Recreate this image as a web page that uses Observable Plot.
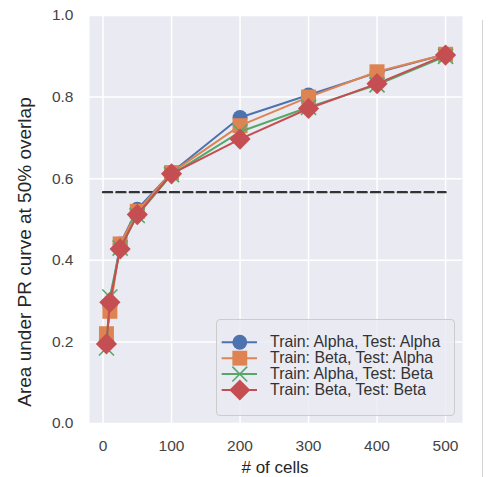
<!DOCTYPE html>
<html>
<head>
<meta charset="utf-8">
<script src="https://cdn.jsdelivr.net/npm/d3@7"></script>
<script src="https://cdn.jsdelivr.net/npm/@observablehq/plot@0.6"></script>
<style>
  html, body { margin: 0; padding: 0; background: #ffffff; }
  #wrap { position: relative; width: 490px; height: 477px; overflow: hidden; font-family: "Liberation Sans", Arial, sans-serif; }
  #ylabel { position: absolute; left: 25px; top: 252px; transform: translate(-50%, -50%) rotate(-90deg); white-space: nowrap; font-size: 19px; color: #262626; }
  #xlabel { position: absolute; left: 275px; top: 458px; transform: translateX(-50%); white-space: nowrap; font-size: 17px; color: #262626; }
  #legend { position: absolute; left: 216px; top: 319px; width: 239px; height: 97px; box-sizing: border-box; border: 1px solid #cccccc; border-radius: 4px; background: rgba(234,234,242,0.8); }
  #legend svg { position: absolute; left: -1px; top: -1px; }
  #edge { position: absolute; left: 482px; top: 20px; width: 1px; height: 457px; background: #d4d4d4; }
</style>
</head>
<body>
<div id="wrap">
  <div id="chart"></div>
  <div id="legend"></div>
  <div id="ylabel">Area under PR curve at 50% overlap</div>
  <div id="xlabel"># of cells</div>
  <div id="edge"></div>
</div>
<script>
// ---- data ----
const cells = [5, 10, 25, 50, 100, 200, 300, 400, 500];
const seriesNames = [
  "Train: Alpha, Test: Alpha",
  "Train: Beta, Test: Alpha",
  "Train: Alpha, Test: Beta",
  "Train: Beta, Test: Beta"
];
const trainAlphaTestAlpha = [0.20, 0.29, 0.44, 0.525, 0.615, 0.750, 0.805, 0.860, 0.905];
const trainBetaTestAlpha  = [0.22, 0.275, 0.44, 0.520, 0.615, 0.730, 0.800, 0.862, 0.905];
const trainAlphaTestBeta  = [0.185, 0.31, 0.43, 0.510, 0.610, 0.715, 0.775, 0.830, 0.900];
const trainBetaTestBeta   = [0.195, 0.297, 0.428, 0.512, 0.612, 0.697, 0.772, 0.833, 0.903];
const chanceX = [0, 500];
const chanceY = 0.567;
const xTicks = [0, 100, 200, 300, 400, 500];
const yTicks = [0.0, 0.2, 0.4, 0.6, 0.8, 1.0];

// ---- styles ----
const colors = ["#4c72b0", "#dd8452", "#55a868", "#c44e52"];
const symbols = ["circle", "square", "times", "diamond2"];
const radii = [7.5, 8.46, 6.9, 9.55];

const allValues = [trainAlphaTestAlpha, trainBetaTestAlpha, trainAlphaTestBeta, trainBetaTestBeta];
const data = seriesNames.flatMap((s, i) => cells.map((c, j) => ({series: s, x: c, y: allValues[i][j]})));
const chance = chanceX.map(x => ({x, y: chanceY}));

function seriesMarks(i) {
  const s = seriesNames[i];
  const sub = data.filter(d => d.series === s);
  const isStroke = symbols[i] === "times";
  return [
    Plot.line(sub, {x: "x", y: "y", stroke: colors[i], strokeWidth: 2}),
    Plot.dot(sub, {
      x: "x", y: "y", symbol: symbols[i], r: radii[i],
      fill: isStroke ? "none" : colors[i],
      stroke: isStroke ? colors[i] : "none",
      strokeWidth: isStroke ? 1.6 : 0
    })
  ];
}

const chart = Plot.plot({
  width: 490,
  height: 477,
  marginLeft: 89,
  marginRight: 28,
  marginTop: 15,
  marginBottom: 54,
  style: {fontFamily: "Liberation Sans, Arial, sans-serif", fontSize: "15.5px", color: "#444444", background: "transparent"},
  x: {domain: [-19.75, 524.75]},
  y: {domain: [0, 1]},
  marks: [
    Plot.frame({fill: "#eaeaf2", stroke: "none"}),
    Plot.gridX(xTicks, {stroke: "white", strokeOpacity: 1, strokeWidth: 1.5}),
    Plot.gridY(yTicks, {stroke: "white", strokeOpacity: 1, strokeWidth: 1.5}),
    Plot.axisX(xTicks, {tickSize: 0, tickPadding: 16, label: null}),
    Plot.axisY(yTicks, {tickSize: 0, tickPadding: 16, label: null, tickFormat: d3.format(".1f")}),
    Plot.line(chance, {x: "x", y: "y", stroke: "#333333", strokeWidth: 2.4, strokeDasharray: "9,4.4"}),
    ...seriesMarks(0), ...seriesMarks(1), ...seriesMarks(2), ...seriesMarks(3)
  ]
});
document.getElementById("chart").appendChild(chart);

// ---- legend (drawn with Plot) ----
const legendRows = seriesNames.map((s, i) => ({series: s, i}));
const legend = Plot.plot({
  width: 239,
  height: 97,
  margin: 0,
  style: {fontFamily: "Liberation Sans, Arial, sans-serif", fontSize: "16px", color: "#333333", background: "transparent", overflow: "visible"},
  x: {domain: [0, 1], range: [5.7, 41.3], axis: null},
  y: {type: "point", domain: seriesNames, range: [13.2, 80.8], axis: null},
  marks: [
    ...legendRows.flatMap(r => [
      Plot.ruleY([r], {y: "series", x1: 0, x2: 1, stroke: colors[r.i], strokeWidth: 2}),
      Plot.dot([r], {
        x: () => 0.5, y: "series", symbol: symbols[r.i], r: radii[r.i],
        fill: symbols[r.i] === "times" ? "none" : colors[r.i],
        stroke: symbols[r.i] === "times" ? colors[r.i] : "none",
        strokeWidth: symbols[r.i] === "times" ? 1.6 : 0
      })
    ]),
    Plot.text(legendRows, {x: () => 1, y: "series", text: "series", textAnchor: "start", dx: 12.7, fill: "#333333"})
  ]
});
document.getElementById("legend").appendChild(legend);
</script>
</body>
</html>
